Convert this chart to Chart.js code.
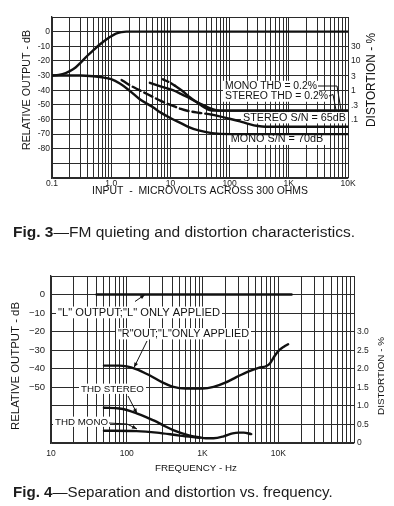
<!DOCTYPE html>
<html>
<head>
<meta charset="utf-8">
<script src="https://cdn.jsdelivr.net/npm/chart.js@4"></script>
<style>
  html, body { margin: 0; padding: 0; background: #fff; }
  body { width: 394px; height: 506px; position: relative; overflow: hidden; font-family: "Liberation Sans", Arial, Helvetica, sans-serif; }
  canvas { position: absolute; left: 0; top: 0; }
  .cap { position: absolute; left: 13px; white-space: nowrap; line-height: 1; color: #1c1c1c; }
</style>
</head>
<body>
<canvas id="quieting" width="394" height="506"></canvas>
<canvas id="separation" width="394" height="506"></canvas>
<div class="cap" id="cap3"><b>Fig. 3</b>—FM quieting and distortion characteristics.</div>
<div class="cap" id="cap4"><b>Fig. 4</b>—Separation and distortion vs. frequency.</div>
<script>
// ---- Fig. 3: input in microvolts, output in dB, distortion in % ----
const inputTicks = [0.1, 1, 10, 100, 1000, 10000];
const inputTickLabels = ['0.1', '1.0', '10', '100', '1K', '10K'];
const outputDbTicks = [0, -10, -20, -30, -40, -50, -60, -70, -80];
const outputDbLabels = ['0', '-10', '-20', '-30', '-40', '-50', '-60', '-70', '-80'];
const distLogTicks = [0.1, 0.3, 1, 3, 10, 30];
const distLogLabels = ['.1', '.3', '1', '3', '10', '30'];

const audioUV = [0.1, 0.13, 0.17, 0.2, 0.25, 0.3, 0.4, 0.5, 0.65, 0.85, 1, 1.2, 1.5, 1.8, 10000];
const audioDb = [-30, -29.5, -28.3, -27, -24.5, -21.5, -16.3, -12.7, -8.6, -5, -3.2, -1.3, -0.3, 0, 0];

const monoNoiseUV = [0.1, 0.3, 0.5, 0.7, 1, 1.4, 2, 3, 5, 7, 10, 15, 20, 30, 50, 100, 10000];
const monoNoiseDb = [-30, -30, -30.5, -31.2, -32.5, -35.5, -40, -46, -51.5, -55.5, -59, -62.5, -65, -67.5, -69.3, -70, -70];

const stereoNoiseUV = [1.5, 2, 3, 5, 7, 10, 15, 20, 30, 50, 100, 150, 200, 300, 400, 10000];
const stereoNoiseDb = [-33, -36.3, -40, -44.5, -47.5, -50, -52.8, -54.2, -55.4, -56.7, -59.5, -61.3, -62.8, -64.5, -65, -65];

const stereoThdUV = [4.5, 7, 11, 15, 20, 31, 45, 68, 10000];
const stereoThdPct = [1.78, 1.33, 1.0, 0.75, 0.56, 0.355, 0.25, 0.2, 0.2];

const monoThdUV = [7.5, 10, 12, 16, 21, 32, 46, 60, 10000];
const monoThdPct = [2.34, 1.78, 1.41, 0.94, 0.59, 0.316, 0.21, 0.2, 0.2];

// ---- Fig. 4: frequency in Hz ----
const freqTicks = [10, 100, 1000, 10000];
const freqTickLabels = ['10', '100', '1K', '10K'];
const sepDbTicks = [0, -10, -20, -30, -40, -50];
const sepDbLabels = ['0', '\u221210', '\u221220', '\u221230', '\u221240', '\u221250'];
const sepDistTicks = [0, 0.5, 1, 1.5, 2, 2.5, 3];
const sepDistLabels = ['0', '0.5', '1.0', '1.5', '2.0', '2.5', '3.0'];

const leftOutHz = [40, 15000];
const leftOutDb = [0, 0];

const rightOutHz = [50, 80, 100, 130, 200, 300, 400, 600, 1000, 1400, 2000, 2800, 4000, 5500, 7000, 7800, 9000, 10000, 12000, 13500];
const rightOutDb = [-38.3, -38.3, -38.7, -40, -43.5, -47.5, -49.6, -50.7, -50.7, -49.8, -47.5, -44.5, -41.5, -39.5, -38.5, -37, -33, -30.5, -28, -26.8];

const thdStereoHz = [50, 80, 100, 135, 180, 250, 320, 410, 680, 920, 1100, 1400, 1900, 2500, 3000, 3500, 4400];
const thdStereoPct = [0.95, 0.93, 0.89, 0.8, 0.7, 0.57, 0.45, 0.35, 0.2, 0.15, 0.13, 0.13, 0.18, 0.26, 0.28, 0.28, 0.24];

const thdMonoHz = [50, 135, 250, 500, 920];
const thdMonoPct = [0.33, 0.32, 0.28, 0.2, 0.14];

const FONT = '"Liberation Sans", Arial, Helvetica, sans-serif';
const INK = '#111';
const GRID = '#2b2b2b';
const TICK = '#222';

function labelFor(ticks, labels, v) {
    const i = ticks.findIndex(t => Math.abs(t - v) <= Math.abs(t) * 1e-6 + 1e-9);
    return i < 0 ? '' : labels[i];
}

// every 1..9 line of each decade, like log paper
function decadeGrid(lo, hi) {
    const out = [];
    for (let d = lo; d < hi * 0.999; d *= 10) {
        for (let k = 1; k < 10; k++) out.push(+(d * k).toPrecision(6));
    }
    out.push(hi);
    return out;
}

function stepGrid(lo, hi, step) {
    const out = [];
    for (let v = lo; v <= hi + 1e-9; v += step) out.push(+v.toFixed(6));
    return out;
}

function curve(xs, ys, axis, extra) {
    return Object.assign({
        data: xs.map((x, i) => ({ x: x, y: ys[i] })),
        yAxisID: axis,
        borderColor: INK,
        borderWidth: 2.4,
        pointRadius: 0,
        fill: false,
        cubicInterpolationMode: 'monotone',
        borderCapStyle: 'round',
        borderJoinStyle: 'round'
    }, extra || {});
}

function freqAxis(min, max, ticks, labels, height, pad) {
    return {
        type: 'logarithmic', min: min, max: max,
        afterBuildTicks: s => { s.ticks = decadeGrid(min, max).map(v => ({ value: v })); },
        afterFit: s => { s.height = height; },
        grid: { color: GRID, lineWidth: 1, drawTicks: false },
        border: { color: GRID, width: 1.3 },
        ticks: {
            autoSkip: false, maxRotation: 0, minRotation: 0, padding: pad, color: TICK,
            font: { family: FONT, size: 8.5 },
            callback: v => labelFor(ticks, labels, v)
        }
    };
}

function dbAxis(min, max, ticks, labels, width, pad, size) {
    return {
        type: 'linear', position: 'left', min: min, max: max,
        afterBuildTicks: s => { s.ticks = stepGrid(min, max, 10).map(v => ({ value: v })); },
        afterFit: s => { s.width = width; },
        grid: { color: GRID, lineWidth: 1, drawTicks: false },
        border: { color: GRID, width: 1.3 },
        ticks: {
            autoSkip: false, padding: pad, color: TICK,
            font: { family: FONT, size: size },
            callback: v => labelFor(ticks, labels, v)
        }
    };
}

function fitFont(ctx, text, width, weight) {
    const w = weight || 'normal';
    ctx.font = w + ' 10px ' + FONT;
    const size = 10 * width / ctx.measureText(text).width;
    ctx.font = w + ' ' + size.toFixed(2) + 'px ' + FONT;
    return size;
}

// labels, axis titles and leader lines, given in page pixels
function makeNotes(labels, leaders) {
    return {
        id: 'notes',
        beforeDatasetsDraw(chart) {
            const ctx = chart.ctx;
            ctx.save();
            ctx.fillStyle = '#fff';
            labels.filter(l => l.bg).forEach(l => {
                const size = fitFont(ctx, l.text, l.w);
                ctx.fillRect(l.cx - l.w / 2 - 2, l.cy - size * 0.55, l.w + 4, size * 1.05);
            });
            ctx.restore();
        },
        afterDatasetsDraw(chart) {
            const ctx = chart.ctx;
            ctx.save();
            ctx.strokeStyle = INK;
            ctx.fillStyle = INK;
            ctx.lineWidth = 1;
            leaders.forEach(l => {
                const p = l.pts;
                ctx.beginPath();
                ctx.moveTo(p[0][0], p[0][1]);
                for (let i = 1; i < p.length; i++) ctx.lineTo(p[i][0], p[i][1]);
                ctx.stroke();
                if (l.arrow) {
                    const a = p[p.length - 2], b = p[p.length - 1];
                    const ang = Math.atan2(b[1] - a[1], b[0] - a[0]);
                    ctx.beginPath();
                    ctx.moveTo(b[0], b[1]);
                    ctx.lineTo(b[0] - 5 * Math.cos(ang) + 2 * Math.sin(ang), b[1] - 5 * Math.sin(ang) - 2 * Math.cos(ang));
                    ctx.lineTo(b[0] - 5 * Math.cos(ang) - 2 * Math.sin(ang), b[1] - 5 * Math.sin(ang) + 2 * Math.cos(ang));
                    ctx.closePath();
                    ctx.fill();
                }
            });
            labels.forEach(l => {
                ctx.save();
                fitFont(ctx, l.text, l.w);
                ctx.translate(l.cx, l.cy);
                if (l.rot) ctx.rotate(l.rot * Math.PI / 180);
                ctx.textAlign = 'center';
                ctx.textBaseline = 'middle';
                ctx.fillText(l.text, 0, 0);
                ctx.restore();
            });
            ctx.restore();
        }
    };
}

const baseOptions = {
    responsive: false,
    animation: false,
    events: [],
    plugins: { legend: { display: false }, tooltip: { enabled: false } }
};

// Fig. 3
new Chart(document.getElementById('quieting'), {
    type: 'line',
    data: {
        datasets: [
            curve(audioUV, audioDb, 'y'),
            curve(monoNoiseUV, monoNoiseDb, 'y'),
            curve(stereoNoiseUV, stereoNoiseDb, 'y', { segment: { borderDash: c => c.p0.parsed.x < 40 ? [9, 4] : undefined } }),
            curve(stereoThdUV, stereoThdPct, 'y2'),
            curve(monoThdUV, monoThdPct, 'y2', { segment: { borderDash: c => c.p0.parsed.x < 11 ? [6, 3] : undefined } })
        ]
    },
    options: Object.assign({}, baseOptions, {
        layout: { autoPadding: false, padding: { top: 17, bottom: 306, left: 0, right: 0 } },
        scales: {
            x: freqAxis(0.1, 10000, inputTicks, inputTickLabels, 22, 1),
            y: dbAxis(-100, 10, outputDbTicks, outputDbLabels, 52, 2, 8.5),
            y2: {
                type: 'logarithmic', position: 'right', min: 0.001, max: 100 * Math.sqrt(10),
                afterBuildTicks: s => { s.ticks = distLogTicks.map(v => ({ value: v })); },
                afterFit: s => { s.width = 46; },
                grid: { display: false, drawTicks: false },
                border: { display: false },
                ticks: {
                    autoSkip: false, padding: 3, color: TICK,
                    font: { family: FONT, size: 8.5 },
                    callback: v => labelFor(distLogTicks, distLogLabels, v)
                }
            }
        }
    }),
    plugins: [makeNotes([
        { text: 'MONO THD = 0.2%', cx: 271, cy: 86.5, w: 92, bg: true },
        { text: 'STEREO THD = 0.2%', cx: 276.5, cy: 96.5, w: 103, bg: true },
        { text: 'STEREO S/N = 65dB', cx: 294.5, cy: 118, w: 103, bg: true },
        { text: 'MONO S/N = 70dB', cx: 277, cy: 139.5, w: 92.5, bg: true },
        { text: 'INPUT  -  MICROVOLTS ACROSS 300 OHMS', cx: 200, cy: 191, w: 216 },
        { text: 'RELATIVE OUTPUT - dB', cx: 27, cy: 90, w: 120, rot: -90 },
        { text: 'DISTORTION - %', cx: 372, cy: 80, w: 94, rot: -90 }
    ], [
        { pts: [[318, 86], [337, 86], [341, 110]] },
        { pts: [[329, 96], [333, 94.5], [336, 110]] }
    ])]
});

// Fig. 4
new Chart(document.getElementById('separation'), {
    type: 'line',
    data: {
        datasets: [
            curve(leftOutHz, leftOutDb, 'y'),
            curve(rightOutHz, rightOutDb, 'y'),
            curve(thdStereoHz, thdStereoPct, 'y2'),
            curve(thdMonoHz, thdMonoPct, 'y2')
        ]
    },
    options: Object.assign({}, baseOptions, {
        layout: { autoPadding: false, padding: { top: 276, bottom: 26, left: 0, right: 0 } },
        scales: {
            x: freqAxis(10, 100000, freqTicks, freqTickLabels, 37, 6),
            y: dbAxis(-80, 10, sepDbTicks, sepDbLabels, 51, 6, 9.5),
            y2: {
                type: 'linear', position: 'right', min: 0, max: 4.5,
                afterBuildTicks: s => { s.ticks = sepDistTicks.map(v => ({ value: v })); },
                afterFit: s => { s.width = 40; },
                grid: { display: false, drawTicks: false },
                border: { display: false },
                ticks: {
                    autoSkip: false, padding: 3, color: TICK,
                    font: { family: FONT, size: 8.5 },
                    callback: v => labelFor(sepDistTicks, sepDistLabels, v)
                }
            }
        }
    }),
    plugins: [makeNotes([
        { text: '"L" OUTPUT;"L" ONLY APPLIED', cx: 139, cy: 312.7, w: 162, bg: true },
        { text: '"R"OUT;"L"ONLY APPLIED', cx: 183.5, cy: 334, w: 131, bg: true },
        { text: 'THD STEREO', cx: 112.5, cy: 389, w: 63, bg: true },
        { text: 'THD MONO', cx: 81.5, cy: 422, w: 53, bg: true },
        { text: 'FREQUENCY - Hz', cx: 196, cy: 468, w: 82 },
        { text: 'RELATIVE OUTPUT - dB', cx: 16, cy: 366, w: 128, rot: -90 },
        { text: 'DISTORTION - %', cx: 381.5, cy: 376, w: 78, rot: -90 }
    ], [
        { pts: [[135, 301.5], [145, 294.5]], arrow: true },
        { pts: [[147, 341], [134, 367.5]], arrow: true },
        { pts: [[128, 396], [137, 413.5]], arrow: true },
        { pts: [[109, 423], [127, 424], [137, 429]], arrow: true }
    ])]
});

// captions sized to the width they take in the scan
function fitCaption(id, width, cy) {
    const el = document.getElementById(id);
    el.style.fontSize = '14px';
    const size = 14 * width / el.getBoundingClientRect().width;
    el.style.fontSize = size.toFixed(2) + 'px';
    el.style.top = (cy - size * 0.52).toFixed(1) + 'px';
}
fitCaption('cap3', 342, 232);
fitCaption('cap4', 320, 491.5);
</script>
</body>
</html>
